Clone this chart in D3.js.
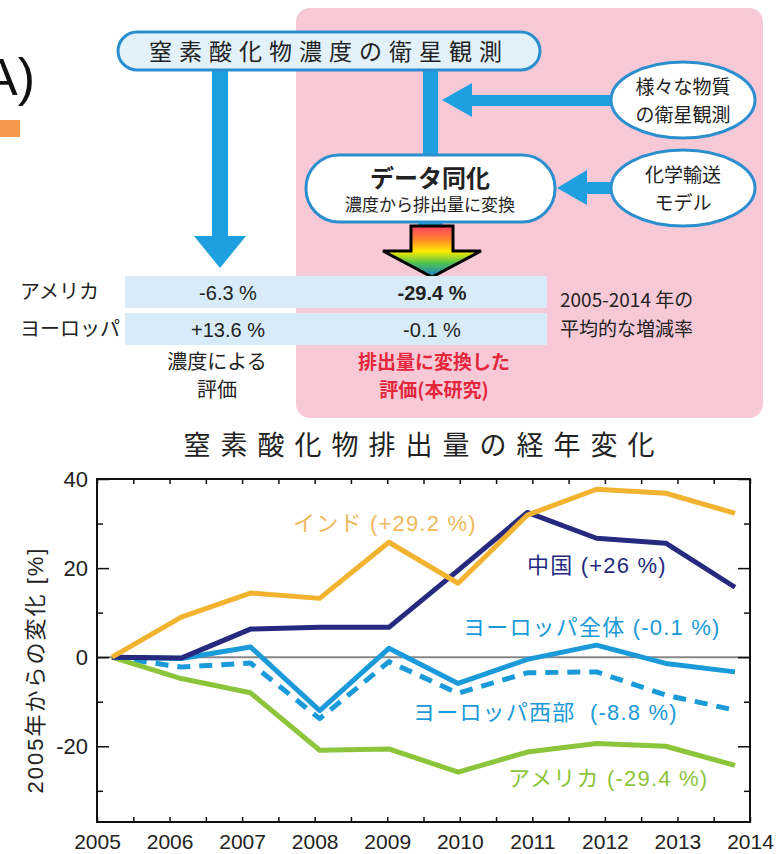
<!DOCTYPE html>
<html><head><meta charset="utf-8">
<script src="https://cdn.jsdelivr.net/npm/d3@7"></script>
<style>
body{margin:0;background:#fff;}
svg{display:block;}
text{font-family:"Liberation Sans","Noto Sans CJK JP",sans-serif;}
</style></head>
<body>
<svg id="c" width="778" height="854"></svg>
<script>
// ---------- data ----------
const years = [2005,2006,2007,2008,2009,2010,2011,2012,2013,2014];
const india      = [0, 9.0, 14.4, 13.2, 25.8, 16.6, 31.9, 37.7, 36.8, 32.3];
const china      = [0, -0.2, 6.3, 6.7, 6.7, 19.5, 32.5, 26.7, 25.6, 15.7];
const europe     = [0, -0.3, 2.3, -12.0, 2.0, -5.9, -0.5, 2.7, -1.4, -3.3];
const westEurope = [0, -2.2, -1.3, -13.8, -1.0, -8.1, -3.5, -3.3, -8.5, -11.9];
const usa        = [0, -4.8, -8.0, -20.9, -20.6, -25.8, -21.3, -19.4, -20.0, -24.3];
const seriesNames = ["インド (+29.2 %)","中国 (+26 %)","ヨーロッパ全体 (-0.1 %)","ヨーロッパ西部  (-8.8 %)","アメリカ (-29.4 %)"];
const yMajorTicks = [-20, 0, 20, 40];
const yMinorTicks = [-30, -10, 10, 30];
const tableRegions = ["アメリカ","ヨーロッパ"];
const concEval = ["-6.3 %","+13.6 %"];
const emisEval = ["-29.4 %","-0.1 %"];

const svg = d3.select("#c");
const FJ = '"Noto Sans CJK JP","Liberation Sans",sans-serif';

// ---------- top diagram ----------
const defs = svg.append("defs");
const g = defs.append("linearGradient").attr("id","rainbow").attr("x1",0).attr("y1",0).attr("x2",0).attr("y2",1);
[["0%","#ff3c64"],["28%","#ff8c28"],["50%","#ffec00"],["72%","#52c44a"],["100%","#1a7fd4"]]
  .forEach(([o,c])=>g.append("stop").attr("offset",o).attr("stop-color",c));

svg.append("text").attr("x",35).attr("y",95).attr("text-anchor","end")
  .attr("font-size",52).attr("fill","#111").text("(A)");
svg.append("rect").attr("x",0).attr("y",120).attr("width",20).attr("height",17).attr("fill","#f7964d");

// pink panel
svg.append("rect").attr("x",296).attr("y",8).attr("width",467).attr("height",410).attr("rx",14).attr("fill","#f7c9d6");

const BLUE = "#1ea0e0", STROKE="#2b8fcf";
// left arrow
svg.append("path").attr("fill",BLUE)
  .attr("d","M212,68 L228,68 L228,236 L246,236 L220,268 L194,236 L212,236 Z");
// right vertical shaft
svg.append("rect").attr("x",423).attr("y",68).attr("width",15).attr("height",92).attr("fill",BLUE);
svg.append("rect").attr("x",418).attr("y",218).attr("width",25).attr("height",10).attr("fill",BLUE);
// horizontal arrow 1
svg.append("path").attr("fill",BLUE)
  .attr("d","M442,100 L472,83 L472,95 L615,95 L615,106 L472,106 L472,117 Z");
// horizontal arrow 2
svg.append("path").attr("fill",BLUE)
  .attr("d","M557,188 L587,170 L587,182 L615,182 L615,194 L587,194 L587,205 Z");

// top pill box
svg.append("rect").attr("x",118).attr("y",32).attr("width",422).attr("height",38).attr("rx",19)
  .attr("fill","#e2f1fa").attr("stroke",STROKE).attr("stroke-width",3);
svg.append("text").attr("x",329).attr("y",60).attr("text-anchor","middle").attr("font-size",23)
  .attr("letter-spacing",7).attr("fill","#222").style("font-family",FJ).text("窒素酸化物濃度の衛星観測");

// data assimilation box
svg.append("rect").attr("x",306).attr("y",155).attr("width",249).attr("height",67).attr("rx",33)
  .attr("fill","#fff").attr("stroke",STROKE).attr("stroke-width",3);
svg.append("text").attr("x",430).attr("y",187).attr("text-anchor","middle").attr("font-size",24)
  .attr("font-weight","bold").attr("fill","#222").style("font-family",FJ).text("データ同化");
svg.append("text").attr("x",430).attr("y",211).attr("text-anchor","middle").attr("font-size",17)
  .attr("fill","#222").style("font-family",FJ).text("濃度から排出量に変換");

// ovals
[[100,["様々な物質","の衛星観測"]],[188,["化学輸送","モデル"]]].forEach(([cy,lines])=>{
  svg.append("ellipse").attr("cx",683).attr("cy",cy).attr("rx",72).attr("ry",38)
    .attr("fill","#fff").attr("stroke",STROKE).attr("stroke-width",3);
  lines.forEach((t,i)=>svg.append("text").attr("x",683).attr("y",cy-6+i*28).attr("text-anchor","middle")
    .attr("font-size",19).attr("fill","#222").style("font-family",FJ).text(t));
});

// rainbow arrow
svg.append("path").attr("fill","url(#rainbow)").attr("stroke","#000").attr("stroke-width",3)
  .attr("d","M411,226 L453,226 L453,251 L481,251 L432,277 L383,251 L411,251 Z");

// table
tableRegions.forEach((r,i)=>{
  const y0 = i===0?276:313;
  svg.append("rect").attr("x",125).attr("y",y0).attr("width",422).attr("height",32).attr("fill","#d7ecf8");
  svg.append("text").attr("x",20).attr("y",y0+23).attr("font-size",20).attr("fill","#222").style("font-family",FJ).text(r);
  svg.append("text").attr("x",228).attr("y",y0+24).attr("text-anchor","middle").attr("font-size",20).attr("fill","#222").text(concEval[i]);
  svg.append("text").attr("x",432).attr("y",y0+24).attr("text-anchor","middle").attr("font-size",20)
    .attr("font-weight",i===0?"bold":"normal").attr("fill","#222").text(emisEval[i]);
});
svg.append("text").attr("x",560).attr("y",307).attr("font-size",19).attr("fill","#222").style("font-family",FJ).text("2005-2014 年の");
svg.append("text").attr("x",560).attr("y",336).attr("font-size",19).attr("fill","#222").style("font-family",FJ).text("平均的な増減率");
svg.append("text").attr("x",217).attr("y",369).attr("text-anchor","middle").attr("font-size",20).attr("fill","#222").style("font-family",FJ).text("濃度による");
svg.append("text").attr("x",217).attr("y",397).attr("text-anchor","middle").attr("font-size",20).attr("fill","#222").style("font-family",FJ).text("評価");
svg.append("text").attr("x",434).attr("y",369).attr("text-anchor","middle").attr("font-size",19).attr("font-weight","bold").attr("fill","#e3263c").style("font-family",FJ).text("排出量に変換した");
svg.append("text").attr("x",434).attr("y",397).attr("text-anchor","middle").attr("font-size",19).attr("font-weight","bold").attr("fill","#e3263c").style("font-family",FJ).text("評価(本研究)");

// ---------- chart ----------
svg.append("text").attr("x",424).attr("y",455).attr("text-anchor","middle").attr("font-size",27)
  .attr("letter-spacing",10).attr("fill","#222").style("font-family",FJ).text("窒素酸化物排出量の経年変化");

const L=97, R=750, T=479, B=822;
const xAxisScale = d3.scaleLinear().domain([2005,2014]).range([L,R]);
const xData = d3.scaleLinear().domain([2005,2014]).range([112,735]);
const y = d3.scaleLinear().domain([-37,40]).range([B,T]);

const halfYears = d3.range(2005,2014.01,0.5);
const plain = d => String(d);

// zero line
svg.append("line").attr("x1",L).attr("x2",R).attr("y1",y(0)).attr("y2",y(0)).attr("stroke","#888").attr("stroke-width",2);

function styleAxis(sel){ sel.select(".domain").remove(); sel.selectAll(".tick line").attr("stroke","#111").attr("stroke-width",1.5); }

svg.append("g").attr("transform",`translate(${L},0)`)
  .call(d3.axisLeft(y).tickValues(yMajorTicks).tickSize(-12).tickPadding(9).tickFormat(plain))
  .call(styleAxis).call(s=>s.selectAll("text").attr("font-size",22).attr("fill","#222").style("font-family","Liberation Sans"));
svg.append("g").attr("transform",`translate(${L},0)`)
  .call(d3.axisLeft(y).tickValues(yMinorTicks).tickSize(-6).tickFormat(""))
  .call(styleAxis);
svg.append("g").attr("transform",`translate(${R},0)`)
  .call(d3.axisRight(y).tickValues(yMajorTicks).tickSize(-12).tickFormat(""))
  .call(styleAxis);
svg.append("g").attr("transform",`translate(${R},0)`)
  .call(d3.axisRight(y).tickValues(yMinorTicks).tickSize(-6).tickFormat(""))
  .call(styleAxis);
svg.append("g").attr("transform",`translate(0,${T})`)
  .call(d3.axisTop(xAxisScale).tickValues(halfYears).tickSize(-5).tickFormat(""))
  .call(styleAxis);
svg.append("g").attr("transform",`translate(0,${B})`)
  .call(d3.axisBottom(xAxisScale).tickValues(halfYears).tickSize(-5).tickFormat(""))
  .call(styleAxis);
svg.append("g").attr("transform",`translate(0,${B})`)
  .call(d3.axisBottom(xAxisScale).tickValues(years).tickSize(0).tickPadding(12).tickFormat(plain))
  .call(styleAxis).call(s=>s.selectAll("text").attr("font-size",21).attr("fill","#222").style("font-family","Liberation Sans"));

// frame
svg.append("rect").attr("x",L).attr("y",T).attr("width",R-L).attr("height",B-T)
  .attr("fill","none").attr("stroke","#111").attr("stroke-width",2);

// y label
svg.append("text").attr("transform",`translate(43,${670}) rotate(-90)`).attr("text-anchor","middle")
  .attr("font-size",22).attr("letter-spacing",2).attr("fill","#222").text("2005年からの変化 [%]");

// lines
const line = d3.line().x((d,i)=>xData(years[i])).y(d=>y(d));
const series = [
  {v:westEurope, c:"#1a9ad8", dash:"13,9"},
  {v:usa, c:"#8cc43c"},
  {v:europe, c:"#1a9ad8"},
  {v:china, c:"#252a7e"},
  {v:india, c:"#f2b331"}
];
series.forEach(s=>{
  svg.append("path").datum(s.v).attr("d",line).attr("fill","none").attr("stroke",s.c)
    .attr("stroke-width",5).attr("stroke-linejoin","round").attr("stroke-dasharray",s.dash||null);
});

// series labels
const labelPos = [[293,531,"#f0b85c"],[527,573,"#252a7e"],[463,635,"#1a9ad8"],[413,720,"#1a9ad8"],[508,786,"#8cc43c"]];
seriesNames.forEach((t,i)=>{
  svg.append("text").attr("x",labelPos[i][0]).attr("y",labelPos[i][1]).attr("font-size",22).attr("letter-spacing",1.2)
    .attr("fill",labelPos[i][2]).attr("xml:space","preserve").style("white-space","pre").text(t);
});
</script>
</body></html>
